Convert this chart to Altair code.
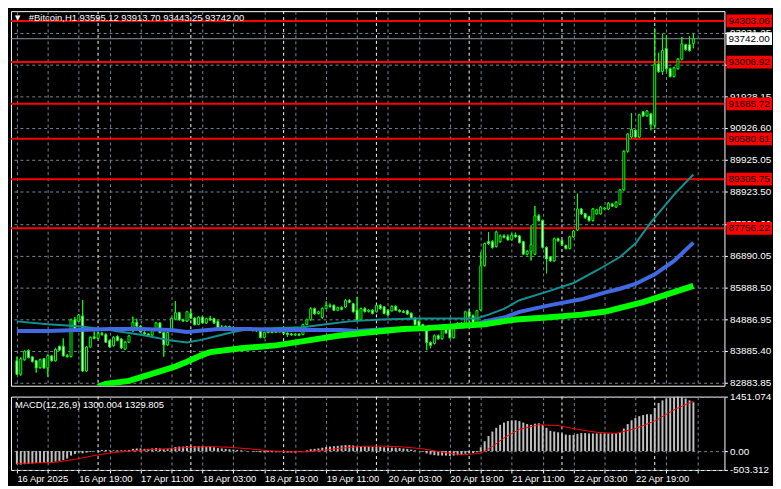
import json
import pandas as pd
import altair as alt

# ---------------- data ----------------
opens = [83573, 83148, 83603, 83896, 83694, 83573, 83350, 83634, 83350, 83725,
         83573, 84028, 84028, 83735, 83704, 84867, 84817, 84988, 83250, 84007,
         84330, 84280, 84430, 84400, 84210, 84050, 84340, 84260, 83940, 84160,
         84513, 84786, 84665, 84460, 84420, 84380, 84560, 84766, 84463, 84078,
         84513, 84887, 85090, 84867, 84830, 85069, 84918, 84715, 84948, 84766,
         84900, 84900, 84817, 84614, 84640, 84650, 84620, 84580, 84560, 84600,
         84570, 84540, 84560, 84513, 84311, 84463, 84500, 84470, 84520, 84500,
         84440, 84420, 84390, 84410, 84400, 84715, 84867, 85220, 85060, 84940,
         85220, 85320, 85320, 85170, 85250, 85271, 85474, 85372, 85170, 84867,
         85220, 85130, 85170, 85120, 85320, 85271, 85170, 85150, 85290, 85170,
         85130, 85150, 85069, 84918, 84817, 84715, 84574, 84150, 84120, 84362,
         84270, 84574, 84574, 84301, 84635, 84756, 84700, 85120, 84998, 84786,
         85180, 86576, 87334, 87334, 87183, 87334, 87516, 87486, 87395, 87546,
         87516, 87334, 86940, 87031, 86940, 88153, 88001, 87152, 86849, 86728,
         87425, 87365, 87213, 87122, 87486, 87698, 88365, 88214, 88122, 88001,
         88214, 88214, 88365, 88365, 88517, 88426, 88517, 88972, 90185, 90640,
         90853, 90640, 91429, 91308, 91368, 91004, 92945, 92703, 93431, 92794,
         92551, 92794, 93097, 93552, 93552, 93595.12]
highs = [83704, 83680, 83900, 83930, 83720, 83600, 83640, 83660, 83780, 83760,
         83980, 84050, 84280, 83780, 84900, 84950, 85050, 85494, 84030, 84340,
         84500, 84500, 84480, 84440, 84240, 84350, 84370, 84290, 84200, 84390,
         84968, 84900, 84700, 84500, 84440, 84600, 84800, 84790, 84490, 84500,
         84960, 85453, 85120, 84900, 85150, 85150, 84950, 84980, 84990, 84930,
         84990, 84930, 84850, 84700, 84690, 84680, 84660, 84620, 84630, 84640,
         84600, 84590, 84590, 84540, 84490, 84540, 84530, 84550, 84550, 84530,
         84470, 84450, 84440, 84440, 84740, 84900, 85260, 85250, 85150, 85260,
         85450, 85380, 85350, 85280, 85290, 85520, 85520, 85400, 85595, 85250,
         85260, 85200, 85200, 85350, 85360, 85300, 85200, 85320, 85320, 85200,
         85170, 85180, 85100, 84950, 84850, 84740, 84600, 84180, 84400, 84400,
         84600, 84620, 84600, 84665, 84790, 84790, 85150, 85150, 85030, 85180,
         87001, 87300, 87637, 87380, 87680, 87560, 87560, 87560, 87600, 87620,
         87540, 87360, 87060, 87850, 88456, 88200, 88030, 87180, 86880, 87460,
         87460, 87400, 87240, 87520, 87700, 88850, 88400, 88240, 88150, 88400,
         88370, 88460, 88430, 88580, 88560, 88610, 89000, 90220, 90760, 91398,
         90880, 91370, 91460, 91490, 91400, 94067, 93300, 93900, 93855, 92830,
         92860, 93130, 93800, 93580, 93830, 93913.70]
lows = [83128, 83100, 83580, 83650, 83520, 83200, 83330, 83320, 83067, 83550,
        83550, 83880, 83704, 83680, 83680, 84540, 84800, 83220, 83220, 83990,
        84250, 84260, 84370, 84140, 83990, 84020, 84190, 83950, 83910, 84140,
        84490, 84640, 84460, 84380, 84340, 84360, 84540, 84440, 83705, 84050,
        84490, 84860, 84840, 84800, 84800, 84890, 84690, 84700, 84740, 84740,
        84830, 84740, 84590, 84590, 84600, 84590, 84560, 84540, 84530, 84550,
        84510, 84500, 84490, 84280, 84280, 84440, 84440, 84450, 84460, 84410,
        84330, 84360, 84362, 84350, 84380, 84700, 84840, 85030, 85040, 84900,
        85200, 85250, 85150, 85140, 85170, 85250, 85400, 85100, 84840, 84840,
        85100, 85100, 85040, 85100, 85190, 85040, 85000, 85130, 85150, 85100,
        85080, 85020, 84890, 84690, 84640, 84590, 83907, 83970, 84090, 84240,
        84240, 84430, 84270, 84280, 84610, 84680, 84680, 84940, 84760, 84760,
        85150, 86550, 87240, 87120, 87150, 87300, 87440, 87370, 87370, 87460,
        87280, 86910, 86900, 86740, 86910, 87970, 87120, 86333, 86700, 86700,
        87330, 87210, 87090, 87090, 87460, 87670, 88180, 88060, 87970, 87970,
        88190, 88190, 88340, 88340, 88430, 88400, 88490, 88940, 90150, 90600,
        90600, 90610, 91280, 91280, 90850, 90900, 92670, 92600, 92700, 92520,
        92520, 92770, 93060, 93370, 93340, 93443.25]
closes = [83148, 83634, 83876, 83674, 83553, 83350, 83603, 83350, 83735, 83573,
          83937, 83907, 83735, 83700, 84867, 84564, 85019, 83250, 84007, 84311,
          84280, 84430, 84400, 84160, 84007, 84310, 84210, 83980, 84160, 84360,
          84786, 84665, 84483, 84420, 84370, 84560, 84766, 84463, 84078, 84463,
          84917, 85090, 84867, 84830, 85120, 84918, 84715, 84948, 84766, 84900,
          84860, 84766, 84614, 84640, 84650, 84620, 84580, 84560, 84600, 84570,
          84540, 84560, 84520, 84311, 84463, 84500, 84470, 84520, 84490, 84440,
          84400, 84390, 84410, 84380, 84715, 84867, 85220, 85060, 85120, 85220,
          85320, 85290, 85170, 85250, 85200, 85474, 85420, 85120, 84867, 85220,
          85130, 85170, 85070, 85320, 85220, 85069, 85020, 85290, 85170, 85130,
          85100, 85050, 84918, 84715, 84665, 84614, 84150, 84060, 84362, 84270,
          84574, 84453, 84301, 84635, 84756, 84700, 85120, 84968, 84786, 85150,
          86576, 87274, 87274, 87152, 87637, 87516, 87470, 87395, 87546, 87486,
          87304, 86940, 87031, 87240, 88153, 88001, 87152, 86788, 86728, 87425,
          87365, 87243, 87122, 87486, 87668, 88365, 88214, 88092, 88001, 88365,
          88335, 88426, 88396, 88547, 88456, 88578, 88972, 90185, 90731, 90883,
          90640, 91338, 91308, 91459, 91034, 92945, 92703, 93370, 92794, 92551,
          92824, 93097, 93582, 93400, 93370, 93742.00]

# moving averages, read at sample candles
teal_idx = [0, 8, 16, 24, 32, 40, 44, 48, 52, 56, 60, 66, 74, 80, 86, 94, 104, 112, 119,
            122, 126, 130, 138, 144, 150, 156, 160, 164, 170, 175]
teal_val = [84817, 84726, 84665, 84544, 84392, 84210, 84150, 84240, 84362, 84483, 84574,
            84604, 84635, 84726, 84817, 84877, 84908, 84908, 84908, 85029, 85211, 85484,
            85787, 86030, 86424, 86849, 87274, 87941, 88820, 89457]
blue_idx = [0, 8, 16, 24, 32, 40, 44, 52, 60, 68, 76, 84, 88, 96, 104, 112, 119, 121,
            126, 130, 138, 146, 152, 156, 160, 165, 170, 175]
blue_val = [84514, 84514, 84544, 84574, 84574, 84544, 84483, 84574, 84574, 84544, 84544,
            84544, 84514, 84574, 84604, 84665, 84726, 84817, 84938, 85120, 85332, 85514,
            85726, 85848, 85999, 86303, 86727, 87304]
lime_idx = [21, 23, 29, 33, 37, 41, 44, 48, 50, 58, 67, 75, 83, 92, 100, 106, 121, 129,
            137, 146, 152, 162, 175]
lime_val = [82754, 82845, 82936, 83088, 83239, 83391, 83543, 83760, 83846, 83967, 84058,
            84210, 84362, 84483, 84574, 84604, 84726, 84877, 84938, 85029, 85120, 85423,
            85939]

# MACD histogram (one per candle) and signal line samples
macd_hist = [-350, -360, -350, -340, -330, -320, -320, -310, -300, -290,
             -280, -260, -240, -200, -120, -80, -40, -60, -40, -20,
             0, 20, 30, 30, 20, 20, 20, 20, 20, 30,
             60, 70, 70, 60, 60, 70, 80, 70, 50, 50,
             80, 110, 120, 120, 130, 140, 130, 130, 130, 120,
             110, 100, 80, 70, 60, 50, 40, 30, 20, 10,
             0, -10, -20, -30, -30, -30, -30, -30, -30, -40,
             -40, -40, -40, -20, 0, 20, 50, 60, 70, 90,
             110, 120, 130, 140, 150, 160, 160, 150, 120, 120,
             120, 120, 110, 110, 110, 100, 90, 90, 90, 80,
             70, 60, 40, 20, 0, -20, -60, -90, -110, -120,
             -120, -120, -130, -120, -110, -100, -70, -60, -50, -30,
             100, 260, 400, 520, 620, 700, 760, 800, 820, 820,
             800, 760, 720, 700, 730, 740, 700, 620, 540, 520,
             500, 470, 440, 430, 430, 460, 480, 480, 470, 470,
             470, 470, 470, 470, 470, 470, 500, 600, 720, 820,
             880, 930, 960, 980, 980, 1150, 1280, 1350, 1400, 1420,
             1440, 1451, 1440, 1400, 1350, 1300.004]
sig_idx = [0, 10, 15, 20, 25, 30, 35, 40, 45, 50, 55, 60, 65, 70, 75, 80, 85, 90, 95,
           100, 105, 110, 115, 120, 123, 126, 130, 135, 140, 145, 150, 155, 160, 165,
           170, 175]
sig_val = [-330, -300, -220, -120, -40, 10, 40, 70, 100, 120, 100, 60, 10, -20, -20, 30,
           90, 130, 130, 110, 60, -30, -100, -60, 120, 350, 580, 700, 680, 580, 500, 470,
           600, 800, 1100, 1329.805]

levels = [94303.06, 93006.92, 91685.72, 90580.61, 89305.75, 87756.22]
last_price = 93742.00
y_ticks = [93931.25, 92929.70, 91928.15, 90926.60, 89925.05, 88923.50, 87891.60,
           86890.05, 85888.50, 84886.95, 83885.40, 82883.85]
macd_ticks = [1451.074, 0.0, -503.312]
macd_tick_labels = ["1451.074", "0.00", "-503.312"]
x_tick_labels = ["16 Apr 2025", "16 Apr 19:00", "17 Apr 11:00", "18 Apr 03:00",
                 "18 Apr 19:00", "19 Apr 11:00", "20 Apr 03:00", "20 Apr 19:00",
                 "21 Apr 11:00", "22 Apr 03:00", "22 Apr 19:00"]
day_sep_idx = [21, 45, 69, 93, 117, 141, 165]
title_text = "#Bitcoin,H1  93595.12 93913.70 93443.25 93742.00"
macd_title = "MACD(12,26,9) 1300.004 1329.805"

# ---------------- styling / layout ----------------
W, H1, H2 = 720, 378, 74
FONT = "Liberation Sans"
GRID = "#778899"
LIME = "#00FF00"

n = len(closes)
grid_idx = list(range(0, 182, 8))

df = pd.DataFrame({"i": list(range(n)), "o": opens, "h": highs, "l": lows, "c": closes})
df["dir"] = ["up" if c >= o else "down" for o, c in zip(opens, closes)]

xs = alt.Scale(domain=[-0.25, 181.75], nice=False, zero=False)
ys = alt.Scale(domain=[82785, 94613], nice=False, zero=False)
ym = alt.Scale(domain=[-503.312, 1451.074], nice=False, zero=False)

x_axis_main = alt.Axis(values=grid_idx, labels=False, ticks=False, domain=False, grid=True,
                       gridColor=GRID, gridDash=[3, 3], gridWidth=1, title=None)
y_axis_main = alt.Axis(orient="right", values=y_ticks, format=".2f", grid=True,
                       gridColor=GRID, gridDash=[3, 3], domain=False, tickColor="white",
                       tickSize=3, labelColor="white", labelFont=FONT, labelFontSize=10,
                       labelPadding=2, labelOverlap=False, title=None)


def X():
    return alt.X("i:Q", scale=xs, axis=x_axis_main)


def Y(field):
    return alt.Y(field, scale=ys, axis=y_axis_main)


wicks = alt.Chart(df).mark_rule(color=LIME, strokeWidth=1).encode(x=X(), y=Y("l:Q"), y2="h:Q")
bodies = alt.Chart(df).mark_bar(width=2, stroke=LIME, strokeWidth=1).encode(
    x=X(), y=Y("o:Q"), y2="c:Q",
    fill=alt.Fill("dir:N", scale=alt.Scale(domain=["up", "down"], range=["#000000", "#FFFFFF"]),
                  legend=None))

seps = alt.Chart(pd.DataFrame({"i": day_sep_idx})).mark_rule(
    color="white", strokeDash=[3, 3], strokeWidth=1).encode(x=X())

lvl_df = pd.DataFrame({"lvl": levels, "lab": [f"{v:.2f}" for v in levels]})
lvl_rules = alt.Chart(lvl_df).mark_rule(color="#FF0000", strokeWidth=2).encode(y=Y("lvl:Q"))
price_df = pd.DataFrame({"lvl": [last_price], "lab": [f"{last_price:.2f}"]})
price_rule = alt.Chart(price_df).mark_rule(color="#8A96A3", strokeWidth=1).encode(y=Y("lvl:Q"))


def ma_line(idx, vals, color, width):
    d = pd.DataFrame({"i": idx, "v": vals})
    return alt.Chart(d).mark_line(color=color, strokeWidth=width, clip=True).encode(
        x=X(), y=Y("v:Q"))


teal = ma_line(teal_idx, teal_val, "#139191", 2)
blue = ma_line(blue_idx, blue_val, "#4169E1", 4)
lime = ma_line(lime_idx, lime_val, LIME, 6)

BOX = "M-1,-0.28H1V0.28H-1Z"
box_x = W + 25
lvl_boxes = alt.Chart(lvl_df).mark_point(shape=BOX, size=2116, filled=True, fill="#FF0000",
                                         stroke=None, opacity=1).encode(
    x=alt.value(box_x), y=Y("lvl:Q"))
lvl_texts = alt.Chart(lvl_df).mark_text(color="black", font=FONT, fontSize=10,
                                        align="center", baseline="middle").encode(
    x=alt.value(box_x), y=Y("lvl:Q"), text="lab:N")
price_box = alt.Chart(price_df).mark_point(shape=BOX, size=2116, filled=True, fill="#FFFFFF",
                                           stroke=None, opacity=1).encode(
    x=alt.value(box_x), y=Y("lvl:Q"))
price_text = alt.Chart(price_df).mark_text(color="black", font=FONT, fontSize=10,
                                           align="center", baseline="middle").encode(
    x=alt.value(box_x), y=Y("lvl:Q"), text="lab:N")

title_mark = alt.Chart(pd.DataFrame({"t": [title_text]})).mark_text(
    color="white", font=FONT, fontSize=9.5, align="left", baseline="middle").encode(
    x=alt.value(18), y=alt.value(7), text="t:N")
tri_mark = alt.Chart(pd.DataFrame({"t": ["\u25BC"]})).mark_text(
    color="white", font="DejaVu Sans", fontSize=7, align="left", baseline="middle").encode(
    x=alt.value(4), y=alt.value(7), text="t:N")

main = alt.layer(wicks, seps, lvl_rules, price_rule, wicks, bodies, teal, blue, lime,
                 lvl_boxes, lvl_texts, price_box, price_text, title_mark, tri_mark
                 ).properties(width=W, height=H1)

# ---------------- MACD panel ----------------
lab_expr = ("datum.value % 16 == 0 ? " + json.dumps(x_tick_labels) +
            "[datum.value / 16] : ''")
x_axis_macd = alt.Axis(values=grid_idx, labelExpr=lab_expr, grid=True, gridColor=GRID,
                       gridDash=[3, 3], domain=False, tickColor="white", tickSize=3,
                       labelColor="white", labelFont=FONT, labelFontSize=9.5,
                       labelAlign="left", labelPadding=1, labelFlush=False,
                       labelOverlap=False, title=None)
m_lab_expr = ("indexof(" + json.dumps(macd_ticks) + ", datum.value) >= 0 ? " +
              json.dumps(macd_tick_labels) + "[indexof(" + json.dumps(macd_ticks) +
              ", datum.value)] : ''")
y_axis_macd = alt.Axis(orient="right", values=macd_ticks, labelExpr=m_lab_expr, grid=True,
                       gridColor=GRID, gridDash=[3, 3], domain=False, tickColor="white",
                       tickSize=3, labelColor="white", labelFont=FONT, labelFontSize=10,
                       labelPadding=2, labelOverlap=False, title=None)

mdf = pd.DataFrame({"i": list(range(n)), "m": macd_hist})
hist = alt.Chart(mdf).mark_bar(width=2, color="#C0C0C0").encode(
    x=alt.X("i:Q", scale=xs, axis=x_axis_macd),
    y=alt.Y("m:Q", scale=ym, axis=y_axis_macd), y2=alt.datum(0))
sdf = pd.DataFrame({"i": sig_idx, "m": sig_val})
sig = alt.Chart(sdf).mark_line(color="#FF0000", strokeWidth=1).encode(
    x=alt.X("i:Q", scale=xs, axis=x_axis_macd),
    y=alt.Y("m:Q", scale=ym, axis=y_axis_macd))
mseps = alt.Chart(pd.DataFrame({"i": day_sep_idx})).mark_rule(
    color="white", strokeDash=[3, 3], strokeWidth=1).encode(
    x=alt.X("i:Q", scale=xs, axis=x_axis_macd))
mtitle = alt.Chart(pd.DataFrame({"t": [macd_title]})).mark_text(
    color="white", font=FONT, fontSize=9.5, align="left", baseline="middle").encode(
    x=alt.value(4), y=alt.value(8), text="t:N")

macd = alt.layer(mseps, hist, sig, mtitle).properties(width=W, height=H2)

chart = alt.vconcat(main, macd, spacing=2).properties(
    padding={"left": 1, "top": 0, "right": 0, "bottom": 0},
    background="#000000"
).configure_view(stroke="#FFFFFF", strokeWidth=1).configure_concat(spacing=2)

chart.save("out.html", embed_options={"renderer": "svg", "actions": False})
